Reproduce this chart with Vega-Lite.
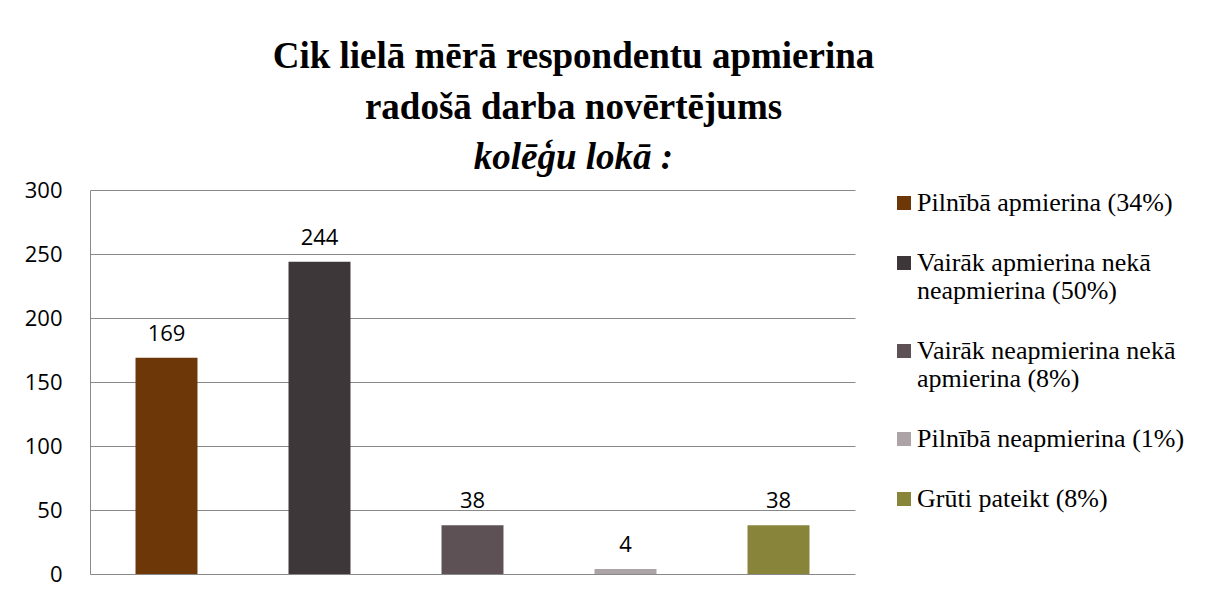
{
  "$schema": "https://vega.github.io/schema/vega-lite/v6.json",
  "width": 765,
  "height": 384,
  "padding": {"left": 5, "top": 38, "right": 0, "bottom": 0},
  "background": "white",
  "title": {
    "text": ["Cik lielā mērā respondentu apmierina", "radošā darba novērtējums"],
    "subtitle": "kolēģu lokā :",
    "anchor": "middle",
    "dx": 101,
    "font": "Liberation Serif",
    "fontSize": 37,
    "fontWeight": "bold",
    "lineHeight": 51,
    "color": "#000000",
    "subtitleFont": "Liberation Serif",
    "subtitleFontSize": 37,
    "subtitleFontWeight": "bold",
    "subtitleFontStyle": "italic",
    "subtitleColor": "#000000",
    "subtitleLineHeight": 51,
    "subtitlePadding": 13,
    "offset": 2
  },
  "data": {
    "values": [
      {"category": "Pilnībā apmierina (34%)", "count": 169},
      {"category": "Vairāk apmierina nekā|neapmierina (50%)", "count": 244},
      {"category": "Vairāk neapmierina nekā|apmierina (8%)", "count": 38},
      {"category": "Pilnībā neapmierina (1%)", "count": 4},
      {"category": "Grūti pateikt (8%)", "count": 38}
    ]
  },
  "encoding": {
    "x": {
      "field": "category",
      "type": "nominal",
      "sort": null,
      "axis": null,
      "scale": {"paddingInner": 0.595, "paddingOuter": 0.2975}
    },
    "y": {
      "field": "count",
      "type": "quantitative",
      "scale": {"domain": [0, 300]},
      "axis": {
        "title": null,
        "values": [0, 50, 100, 150, 200, 250, 300],
        "ticks": false,
        "domain": true,
        "domainColor": "#898989",
        "domainWidth": 1,
        "grid": true,
        "gridColor": "#898989",
        "gridWidth": 1,
        "labelFont": "Open Sans",
        "labelFontSize": 22,
        "labelColor": "#000000",
        "labelPadding": 28,
        "minExtent": 85,
        "maxExtent": 85
      }
    }
  },
  "layer": [
    {
      "mark": {"type": "bar"},
      "encoding": {
        "color": {
          "field": "category",
          "type": "nominal",
          "sort": null,
          "scale": {"range": ["#6E3708", "#3D3739", "#5D5155", "#ACA3A6", "#88853B"]},
          "legend": {
            "title": null,
            "orient": "right",
            "offset": 36,
            "symbolType": "square",
            "symbolSize": 196,
            "symbolStrokeWidth": 0,
            "labelFont": "Liberation Serif",
            "labelFontSize": 26,
            "labelColor": "#000000",
            "labelLimit": 400,
            "labelOffset": 0,
            "labelBaseline": "middle",
            "labelExpr": "split(datum.label, '|')",
            "rowPadding": 34
          }
        }
      }
    },
    {
      "mark": {"type": "text", "baseline": "alphabetic", "dy": -17, "font": "Open Sans", "fontSize": 22, "color": "#000000"},
      "encoding": {"text": {"field": "count", "type": "quantitative"}}
    }
  ],
  "config": {
    "view": {"stroke": null}
  }
}
